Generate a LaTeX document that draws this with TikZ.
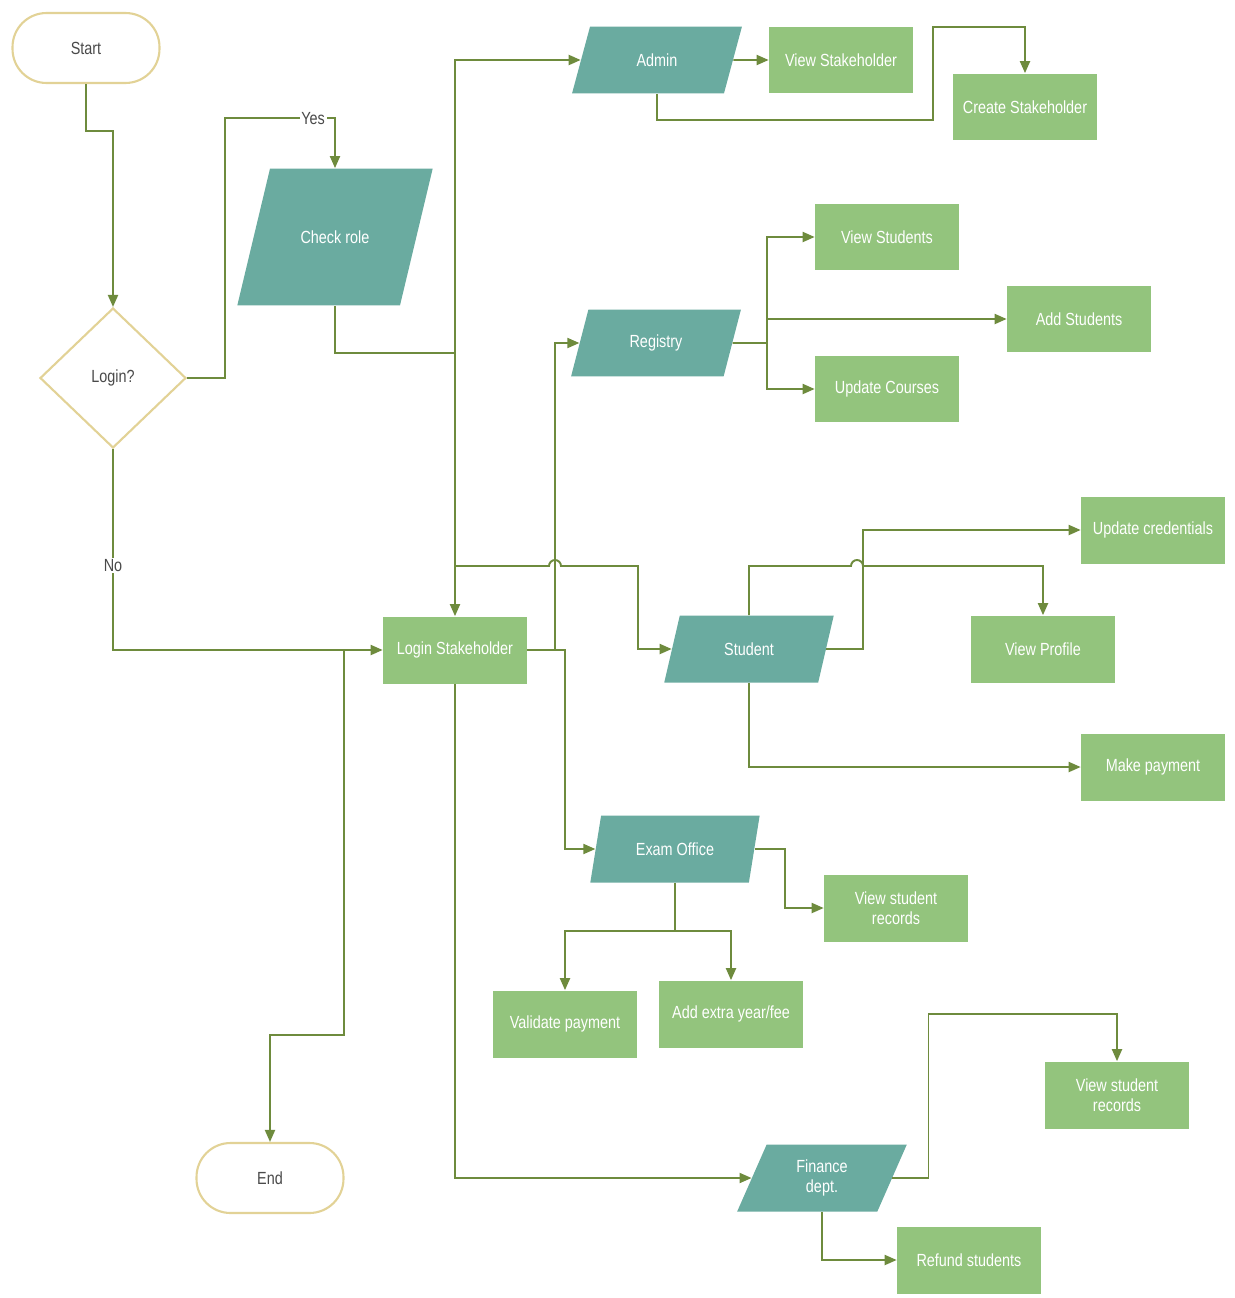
\documentclass[tikz,border=0pt]{standalone}
\usepackage{fontspec}
\setmainfont{Liberation Sans}[FakeStretch=0.82]
\usepackage{xcolor}
\usepackage{tikz}
\usetikzlibrary{arrows.meta, shapes.geometric, positioning, calc}

\definecolor{boxgreen}{HTML}{93C47D}
\definecolor{ioteal}{HTML}{6AABA0}
\definecolor{linkgreen}{HTML}{6E8B3D}
\definecolor{termtan}{HTML}{E2D296}
\definecolor{darktext}{HTML}{4A4A4A}

\begin{document}
\begin{tikzpicture}[
    x=0.02cm, y=-0.02cm,
    every node/.style={font=\fontsize{10}{11.5}\selectfont},
    procbox/.style={rectangle, fill=boxgreen, text=white, minimum width=2.88cm, minimum height=1.34cm, align=center, inner sep=2pt},
    iobox/.style={trapezium, trapezium left angle=70, trapezium right angle=110, trapezium stretches=true, fill=ioteal, text=white, minimum width=3.4cm, minimum height=1.34cm, align=center, inner sep=1pt},
    termbox/.style={rectangle, rounded corners=0.68cm, draw=termtan, line width=1.2pt, fill=white, text=darktext, minimum width=2.94cm, minimum height=1.4cm},
    decbox/.style={diamond, draw=termtan, line width=1.2pt, fill=white, text=darktext, minimum width=2.92cm, minimum height=2.8cm, inner sep=0pt},
    link/.style={draw=linkgreen, line width=1.1pt},
    arr/.style={link, -{Triangle[length=0.24cm, width=0.2cm]}},
    lbl/.style={fill=white, text=darktext, inner sep=1pt}
  ]
  \useasboundingbox (0,0) rectangle (1234,1298);

  % Start, decision and role check
  \node[termbox] (start) at (86,48) {Start};
  \node[decbox] (login) at (113,378) {Login?};
  \node[iobox, trapezium left angle=42, trapezium right angle=138, minimum width=3.92cm, minimum height=2.74cm] (check) at (335,237) {Check role};
  \node[procbox] (lstake) at (455,650) {Login Stakeholder};
  \node[termbox] (end) at (270,1178) {End};

  % Admin
  \node[iobox] (admin) at (657,60) {Admin};
  \node[procbox] (viewsh) at (841,60) {View Stakeholder};
  \node[procbox] (create) at (1025,107) {Create Stakeholder};

  % Registry
  \node[iobox] (registry) at (656,343) {Registry};
  \node[procbox] (viewstu) at (887,237) {View Students};
  \node[procbox] (addstu) at (1079,319) {Add Students};
  \node[procbox] (updcourse) at (887,389) {Update Courses};

  % Student
  \node[iobox] (student) at (749,649) {Student};
  \node[procbox] (updcred) at (1153,530) {Update credentials};
  \node[procbox] (viewprof) at (1043,649) {View Profile};
  \node[procbox] (makepay) at (1153,767) {Make payment};

  % Exam Office
  \node[iobox] (exam) at (675,849) {Exam Office};
  \node[procbox] (viewrec) at (896,908) {View student\\records};
  \node[procbox] (validate) at (565,1024) {Validate payment};
  \node[procbox] (addextra) at (731,1014) {Add extra year/fee};

  % Finance
  \node[iobox] (finance) at (822,1178) {Finance\\dept.};
  \node[procbox] (viewrecfin) at (1117,1095) {View student\\records};
  \node[procbox] (refund) at (969,1260) {Refund students};

  % junction points
  \coordinate (bus) at (455,353);
  \coordinate (studsplit) at (455,566);
  \coordinate (endsplit) at (344,649);
  \coordinate (regfan) at (767,343);

  % main flow
  \draw[arr] (start.south) -- ++(0,47) -| (login.north);
  \draw[arr] (login.east) -- ++(38,0) |- ($(check.north)+(0,-50)$) node[lbl, pos=0.9] {Yes} -- (check.north);
  \draw[arr] (login.south) |- node[lbl, pos=0.29] {No} (lstake.west);
  \draw[arr] (endsplit) -- ++(0,386) -| (end.north);
  \draw[link] (check.south) |- (bus);
  \draw[arr] (bus) |- (admin.west);
  \draw[arr] (bus) -- (lstake.north);
  \draw[arr] (studsplit) -- (549,566) arc[start angle=180, end angle=0, radius=0.12cm] -- (638,566) |- (student.west);
  \draw[arr] (lstake.east) -- ++(28,0) |- (registry.west);
  \draw[arr] (lstake.east) -- ++(38,0) |- (exam.west);
  \draw[arr] (lstake.south) |- (finance.west);

  % admin
  \draw[arr] (admin.east) -- (viewsh.west);
  \draw[arr] (admin.south) |- (933,120) -- (933,27) -| (create.north);

  % registry
  \draw[link] (registry.east) -- (regfan);
  \draw[arr] (regfan) |- (viewstu.west);
  \draw[arr] (regfan) |- (updcourse.west);
  \draw[arr] (regfan |- addstu.west) -- (addstu.west);

  % student
  \draw[arr] (student.east) -- ++(37,0) |- (updcred.west);
  \draw[arr] (student.north) |- (851,566) arc[start angle=180, end angle=0, radius=0.12cm] -| (viewprof.north);
  \draw[arr] (student.south) |- (makepay.west);

  % exam office
  \draw[arr] (exam.east) -- ++(30,0) |- (viewrec.west);
  \draw[link] (exam.south) -- ++(0,48) coordinate (examfan);
  \draw[arr] (examfan) -| (validate.north);
  \draw[arr] (examfan) -| (addextra.north);

  % finance
  \draw[arr] (finance.east) -- ++(36,0) |- ($(viewrecfin.north)+(0,-47)$) -- (viewrecfin.north);
  \draw[arr] (finance.south) |- (refund.west);
\end{tikzpicture}
\end{document}
